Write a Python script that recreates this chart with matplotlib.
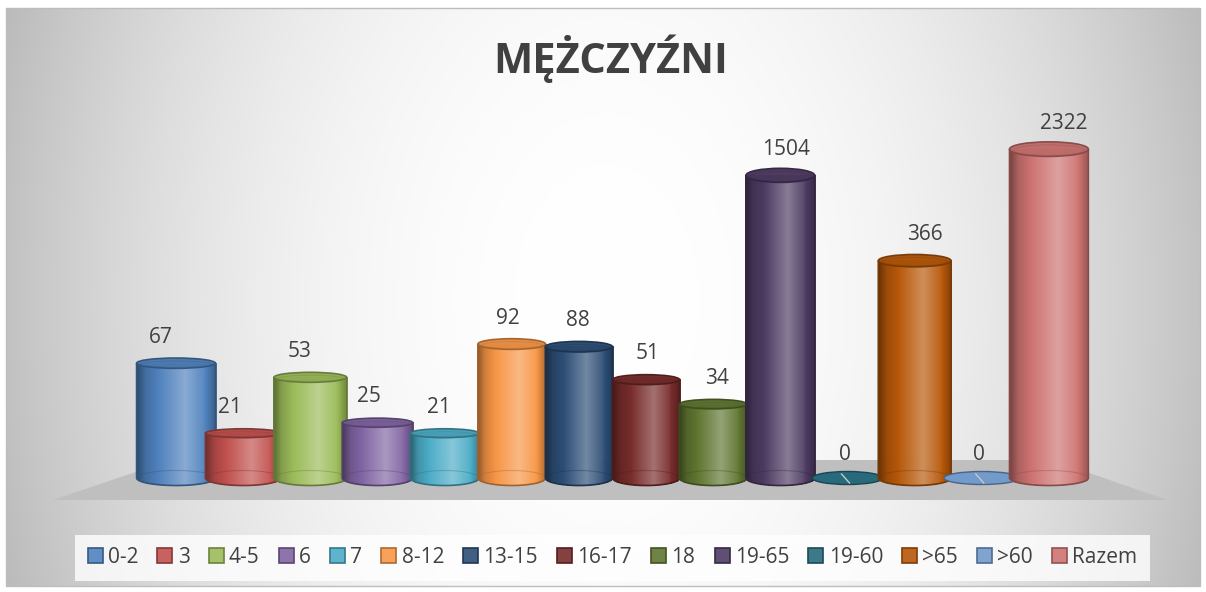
import numpy as np
import matplotlib
matplotlib.use("Agg")
import matplotlib.pyplot as plt
from matplotlib.patches import Polygon, Rectangle, Ellipse, PathPatch, Patch
from matplotlib.collections import PolyCollection
from matplotlib.path import Path
from matplotlib.colors import to_rgb

# data
categories = ["0-2", "3", "4-5", "6", "7", "8-12", "13-15", "16-17", "18",
              "19-65", "19-60", ">65", ">60", "Razem"]
values = [67, 21, 53, 25, 21, 92, 88, 51, 34, 1504, 0, 366, 0, 2322]
colors = ["#4F81BD", "#C0504D", "#9BBB59", "#8064A2", "#4BACC6", "#F79646",
          "#2C4D75", "#772C2A", "#5F7530", "#4D3B62", "#276A7C", "#B65708",
          "#729ACA", "#CD7371"]
title = "MĘŻCZYŹNI"

W, H = 1206, 592
TXT = "#404040"
plt.rcParams['font.family'] = ['Open Sans', 'DejaVu Sans']

fig = plt.figure(figsize=(W / 100, H / 100), dpi=100)
fig.patch.set_facecolor("white")

# background: chart area with soft radial gradient, grey floor
bg = fig.add_axes([0, 0, 1, 1])
bg.set_xlim(0, W)
bg.set_ylim(H, 0)
bg.axis("off")
yy, xx = np.mgrid[0:H, 0:W]
r = np.sqrt(((xx - 606) / 600.0) ** 2 + ((yy - 300) / 900.0) ** 2)
g = np.clip(255 - 60 * r ** 2.2, 185, 255) / 255.0
bg.imshow(np.dstack([g, g, g]), extent=(6, W - 6, H - 6, 8), zorder=0, aspect="auto")
bg.add_patch(Rectangle((6, 8), W - 12, H - 14, fill=False, ec="#BDBDBD", lw=1, zorder=1))
bg.add_patch(Polygon([(53, 500), (171, 460), (1052, 460), (1167, 500)],
                     closed=True, fc="#BFBFBF", ec="none", zorder=2))

# main axes: categories on x, log scale on y (floor at 10)
ax = fig.add_axes([0.1181, 0.1456, 0.7795, 0.7514])
ax.set_facecolor("none")
ax.set_yscale("log")
ax.set_xlim(-0.5, len(categories) - 0.5)
ax.set_ylim(10 ** 0.8, 10 ** 4)
ax.axis("off")
base = 10


def shade(c, k):
    c = np.array(to_rgb(c))
    if k < 0:
        return c * (1 + k)
    return c + (1 - c) * k


prof_t = [0.0, 0.12, 0.62, 0.85, 1.0]
prof_k = [-0.45, -0.15, 0.33, 0.08, -0.25]
ident = matplotlib.transforms.IdentityTransform()
x_mid = 612


def cylinder(i, v, col):
    w = 67 + 0.28 * (i - 6.5) ** 2
    xc, yb = ax.transData.transform((i, base))
    _, yt = ax.transData.transform((i, max(v, base)))
    hb = 15
    z = 3 + i * 0.01
    edge = shade(col, -0.35)
    if v <= 0:
        ax.add_patch(Ellipse((xc, yb), w, hb - 2, transform=ident, fc=col,
                             ec=edge, lw=1, zorder=z, clip_on=False))
        ax.plot([xc - 6, xc + 2], [yb + 4, yb - 5], transform=ident,
                color="#C8C8C8", lw=1, zorder=z, clip_on=False)
        return xc, yb
    hc = 8 + 0.02 * (yt - yb)
    xs = np.arange(xc - w / 2, xc + w / 2 + 0.01, 1.0)
    xs[-1] = xc + w / 2
    u = np.clip(2 * (xs - xc) / w, -1, 1)
    ybot = yb - hb / 2 * np.sqrt(1 - u ** 2)
    quads, fcs = [], []
    for k in range(len(xs) - 1):
        quads.append([(xs[k], ybot[k]), (xs[k + 1] + 0.6, ybot[k + 1]),
                      (xs[k + 1] + 0.6, yt), (xs[k], yt)])
        t = (xs[k] + 0.5 - (xc - w / 2)) / w
        fcs.append(shade(col, np.interp(t, prof_t, prof_k)))
    pc = PolyCollection(quads, facecolors=fcs, edgecolors="none", transform=ident,
                        antialiased=False, alpha=0.93, zorder=z, clip_on=False)
    ax.add_collection(pc)
    # back half of the bottom rim, seen through the body
    th = np.linspace(0, np.pi, 40)
    ax.plot(xc + w / 2 * np.cos(th), yb + hb / 2 * np.sin(th), transform=ident,
            color=edge, lw=0.8, alpha=0.35, zorder=z + 0.002, clip_on=False)
    # outline of the body
    th2 = np.linspace(np.pi, 2 * np.pi, 40)
    verts = [(xc - w / 2, yt)] + list(zip(xc + w / 2 * np.cos(th2), yb + hb / 2 * np.sin(th2))) + [(xc + w / 2, yt)]
    ax.add_patch(PathPatch(Path(verts), fill=False, ec=edge, lw=1.2,
                           transform=ident, zorder=z + 0.003, clip_on=False))
    # top face
    ax.add_patch(Ellipse((xc, yt), w, hc, transform=ident, fc=shade(col, -0.08),
                         ec=edge, lw=1.2, alpha=0.97, zorder=z + 0.004, clip_on=False))
    ax.add_patch(Ellipse((xc, yt - 1), w - 8, hc - 4, transform=ident, fill=False,
                         ec=shade(col, -0.25), lw=0.6, alpha=0.5,
                         zorder=z + 0.005, clip_on=False))
    return xc, yt


for i, (v, c) in enumerate(zip(values, colors)):
    xc, ytop = cylinder(i, v, c)
    dx = 0.035 * (xc - x_mid) if v > 0 else -3
    ax.annotate(str(v), xy=(i, max(v, base)), xytext=(dx, 26 if v > 0 else 24),
                textcoords="offset pixels", ha="center", va="center",
                fontsize=15, color=TXT, zorder=10, annotation_clip=False)

fig.text(611 / W, 1 - 73 / H, title, ha="center", va="baseline",
         fontsize=30, fontweight="bold", color=TXT)

handles = [Patch(facecolor=shade(c, 0.1), edgecolor=shade(c, -0.3), linewidth=1.2)
           for c in colors]
leg = fig.legend(handles, categories, loc="center", ncol=len(categories),
                 bbox_to_anchor=(612.5 / W, 1 - 557.5 / H), frameon=True,
                 fontsize=15, handlelength=0.72, handleheight=0.72,
                 handletextpad=0.25, columnspacing=0.92, borderpad=0.6,
                 fancybox=False, labelcolor=TXT)
leg.get_frame().set_facecolor((1, 1, 1, 0.35))
leg.get_frame().set_edgecolor("none")

fig.savefig("out.png", dpi=100)
